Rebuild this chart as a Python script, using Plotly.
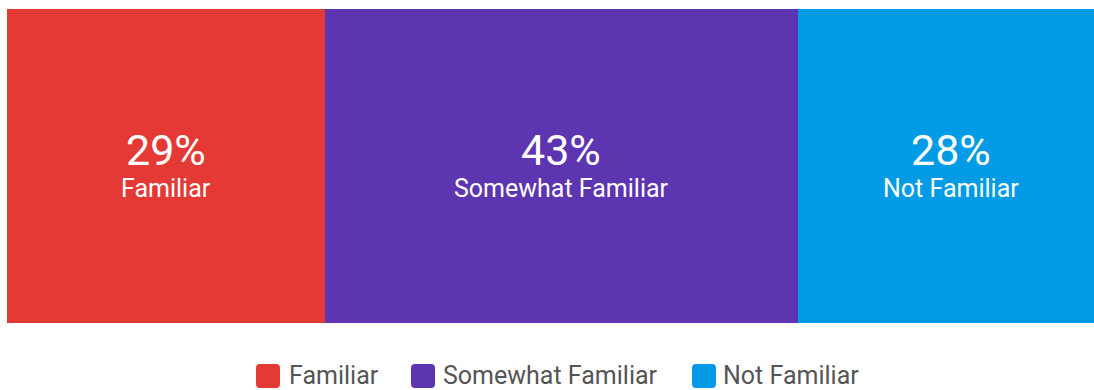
import plotly.graph_objects as go

# Survey: familiarity breakdown (share of respondents, %)
categories = ["Familiar", "Somewhat Familiar", "Not Familiar"]
shares = [29, 43, 28]
colors = ["#E53935", "#5E35B1", "#039BE5"]

W, H = 1094, 390
M_L, M_R, M_T, M_B = 7, 0, 9, 67
PLOT_W = W - M_L - M_R
PLOT_H = H - M_T - M_B
X_MAX = 99  # last segment runs past the right edge


def px_x(x):
    return (x - M_L) / PLOT_W


def px_y(y):
    return (H - M_B - y) / PLOT_H


fig = go.Figure()
for cat, val, col in zip(categories, shares, colors):
    fig.add_trace(go.Bar(
        x=[val], y=[""], orientation="h", name=cat,
        marker=dict(color=col, line=dict(width=0)),
        hoverinfo="name+x", showlegend=False,
    ))

# centred value + category labels inside each segment
annotations = []
start = 0
for cat, val in zip(categories, shares):
    mid = start + val / 2
    start += val
    annotations.append(dict(
        x=mid, y=0, xref="x", yref="y", text=f"{val}%", showarrow=False,
        font=dict(family="Roboto", size=43, color="white"), yshift=16,
    ))
    annotations.append(dict(
        x=mid, y=0, xref="x", yref="y", text=cat, showarrow=False,
        font=dict(family="Roboto", size=25, color="white"), yshift=-22,
    ))

# legend row under the bar
shapes = []
legend_y = 375
sq = 24
legend_items = [(256, 288), (411, 442), (692, 722)]
for (sx, tx), cat, col in zip(legend_items, categories, colors):
    x0, x1 = sx, sx + sq
    y0, y1 = legend_y - sq / 2 + 1, legend_y + sq / 2 + 1
    r = 4
    path = (f"M {px_x(x0 + r)},{px_y(y0)} L {px_x(x1 - r)},{px_y(y0)} "
            f"Q {px_x(x1)},{px_y(y0)} {px_x(x1)},{px_y(y0 + r)} "
            f"L {px_x(x1)},{px_y(y1 - r)} Q {px_x(x1)},{px_y(y1)} {px_x(x1 - r)},{px_y(y1)} "
            f"L {px_x(x0 + r)},{px_y(y1)} Q {px_x(x0)},{px_y(y1)} {px_x(x0)},{px_y(y1 - r)} "
            f"L {px_x(x0)},{px_y(y0 + r)} Q {px_x(x0)},{px_y(y0)} {px_x(x0 + r)},{px_y(y0)} Z")
    shapes.append(dict(type="path", xref="paper", yref="paper", path=path,
                       fillcolor=col, line=dict(width=0)))
    annotations.append(dict(
        x=px_x(tx), y=px_y(legend_y), xref="paper", yref="paper",
        xanchor="left", yanchor="middle", text=cat, showarrow=False,
        borderpad=0,
        font=dict(family="Roboto", size=25, color="#555555"),
    ))

fig.update_layout(
    width=W, height=H,
    margin=dict(l=M_L, r=M_R, t=M_T, b=M_B),
    barmode="stack", bargap=0,
    plot_bgcolor="white", paper_bgcolor="white",
    xaxis=dict(range=[0, X_MAX], visible=False, fixedrange=True),
    yaxis=dict(range=[-0.5, 0.5], visible=False, fixedrange=True),
    showlegend=False,
    annotations=annotations,
    shapes=shapes,
)

fig.write_html("out.html")
